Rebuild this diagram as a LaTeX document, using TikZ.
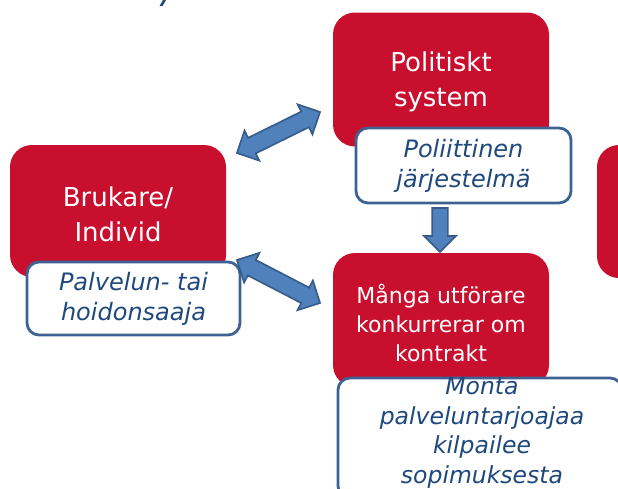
\documentclass[tikz,border=0pt]{standalone}
\usepackage{fontspec}
\setmainfont{DejaVu Sans}
\usetikzlibrary{shapes.arrows}
\definecolor{boxred}{HTML}{C8102E}
\definecolor{borderblue}{HTML}{3E6392}
\definecolor{textblue}{HTML}{1F497D}
\definecolor{arrowfill}{HTML}{4F81BD}
\definecolor{arrowborder}{HTML}{385D8A}
\begin{document}
\begin{tikzpicture}[x=1pt,y=-1pt,
  redbox/.style={fill=boxred, rounded corners=22pt, minimum width=216pt,
    minimum height=134pt, inner sep=0pt},
  redtext/.style={text=white, align=center, inner sep=0pt,
    font=\fontsize{26}{35}\selectfont},
  whitebox/.style={draw=borderblue, line width=2.8pt, fill=white, rounded corners=12pt,
    text=textblue, align=center, inner sep=0pt,
    font=\fontsize{24}{30}\selectfont\itshape},
  bluetext/.style={text=textblue, align=center, inner sep=0pt,
    font=\fontsize{23.5}{29.5}\selectfont\itshape},
  dblarrow/.style={double arrow, fill=arrowfill, draw=arrowborder, line width=1.7pt,
    inner sep=0pt, inner ysep=7.8pt, double arrow head extend=8pt, minimum width=0pt,
    sloped, allow upside down},
  sglarrow/.style={single arrow, fill=arrowfill, draw=arrowborder, line width=1.7pt,
    inner sep=0pt, inner ysep=7pt, single arrow head extend=8pt, minimum width=0pt,
    sloped, allow upside down}
]
\useasboundingbox (0,0) rectangle (618,488);
\clip (0,0) rectangle (618,488);
% fragment of cut-off title
\fill[textblue] (163,0) -- (166,0) -- (162.5,6) -- (159.5,6) -- cycle;
% red boxes
\node[redbox] (pol) at (441,79.5) {};
\node[redtext] (polt) at (441,82) {Politiskt\\system};
\node[redbox, minimum height=132pt] (bru) at (118,211) {};
\node[redtext] (brut) at (118,214) {Brukare/\\Individ};
\node[redbox] (man) at (441,320) {};
\node[redtext, font=\fontsize{22}{29}\selectfont] (mant1) at (441,323) {Många utförare\\konkurrerar om\\kontrakt};
\node[redbox, minimum height=133pt] (right) at (705,211.5) {};
% white boxes
\node[whitebox, minimum width=215pt, minimum height=75pt] (polw) at (463.5,165.5) {Poliittinen\\järjestelmä};
\node[whitebox, minimum width=213pt, minimum height=73pt] (bruw) at (133.5,298.5) {Palvelun- tai\\hoidonsaaja};
\node[whitebox, minimum width=284pt, minimum height=120pt] (manw) at (480,438) {};
\node[bluetext] (mant) at (482,433) {Monta\\palveluntarjoajaa\\kilpailee\\sopimuksesta};
% arrows
\coordinate (a1) at (237,153);
\coordinate (a2) at (320,112);
\coordinate (b1) at (237,260);
\coordinate (b2) at (320,303);
\coordinate (c1) at (440,204);
\coordinate (c2) at (440,248);
\path (a1) -- node[dblarrow, minimum height=92.6pt] (arr1) {} (a2);
\path (b1) -- node[dblarrow, minimum height=93.5pt] (arr2) {} (b2);
\path (c1) -- node[sglarrow, minimum height=44pt] (arr3) {} (c2);
\end{tikzpicture}
\end{document}
